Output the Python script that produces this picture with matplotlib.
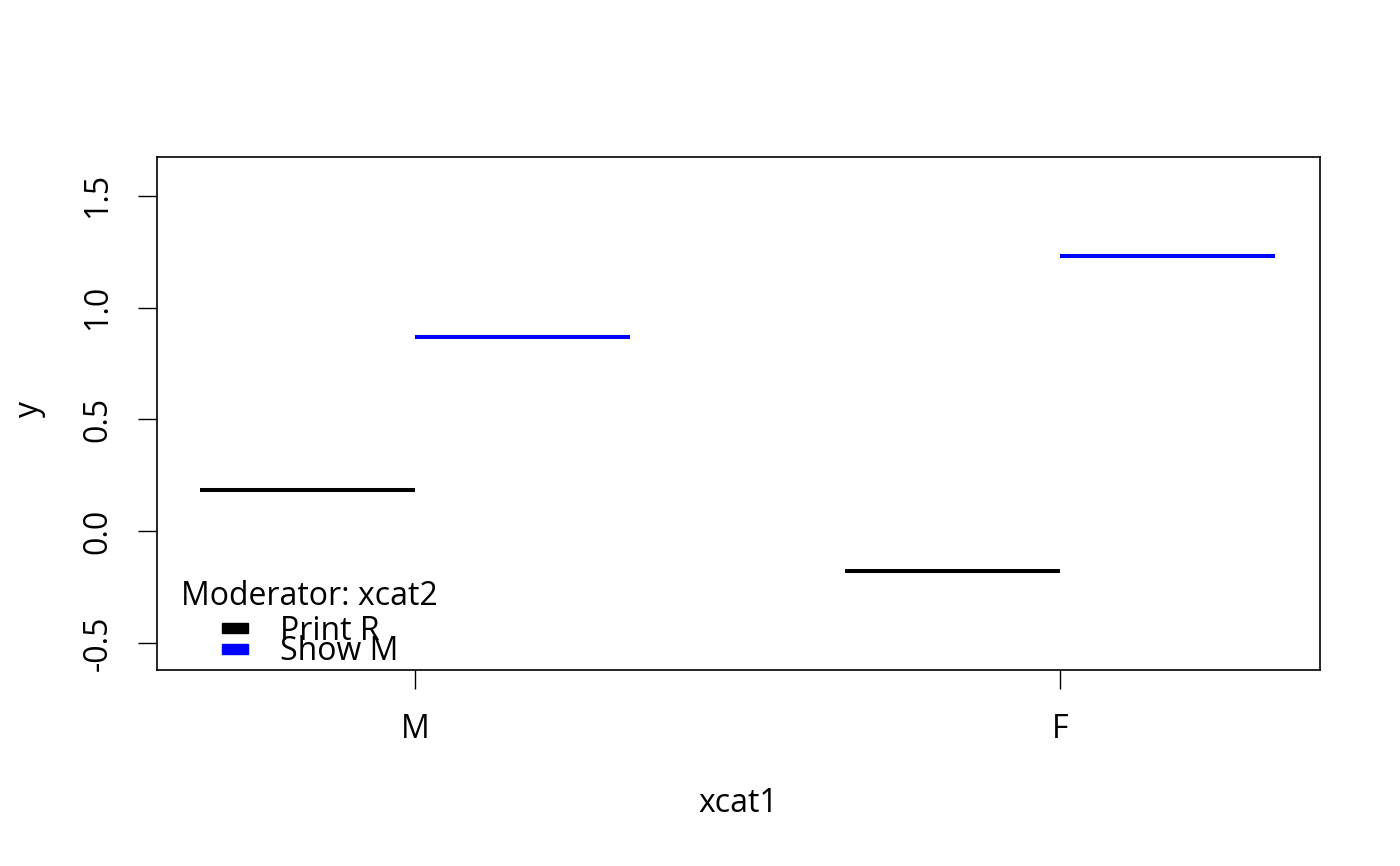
import matplotlib.pyplot as plt
from matplotlib.patches import Rectangle

plt.rcParams['font.family'] = ['Open Sans', 'DejaVu Sans']

# data
xcat1 = ['M', 'F']
groups = ['Print R', 'Show M']
colors = ['black', 'blue']
means = {
    'Print R': [0.183, -0.180],
    'Show M': [0.868, 1.230],
}

fig = plt.figure(figsize=(14, 8.66), dpi=100)
ax = fig.add_axes([157 / 1400, 1 - 670 / 866, (1320 - 157) / 1400, (670 - 157) / 866])

width = 1 / 3
for i, g in enumerate(groups):
    for j, v in enumerate(means[g]):
        x0 = j + 1 - width + i * width
        ax.plot([x0, x0 + width], [v, v], color=colors[i], lw=2.9, solid_capstyle='butt')

ax.set_xlim(0.6, 2.403)
ax.set_ylim(-0.621, 1.674)
ax.set_xticks([1, 2])
ax.set_xticklabels(xcat1)
ax.set_yticks([-0.5, 0.0, 0.5, 1.0, 1.5])
ax.set_yticklabels(['-0.5', '0.0', '0.5', '1.0', '1.5'], rotation=90, va='center')
ax.tick_params(labelsize=23, length=13.7, width=1, pad=17)
for s in ax.spines.values():
    s.set_linewidth(1.2)

fig.text(738 / 1400, 1 - 804 / 866, 'xcat1', ha='center', va='center', fontsize=23)
fig.text(30 / 1400, 1 - 410 / 866, 'y', ha='center', va='center', fontsize=23, rotation=90)

# legend
fig.text(181 / 1400, 1 - 605 / 866, 'Moderator: xcat2', ha='left', va='baseline', fontsize=23)
for i, g in enumerate(groups):
    top = 623 + i * 21
    fig.patches.append(Rectangle((222 / 1400, 1 - (top + 10) / 866), 26 / 1400, 10 / 866,
                                 transform=fig.transFigure, color=colors[i]))
    fig.text(280 / 1400, 1 - (640 + i * 20) / 866, g, ha='left', va='baseline', fontsize=23)

fig.savefig('out.png', dpi=100)
